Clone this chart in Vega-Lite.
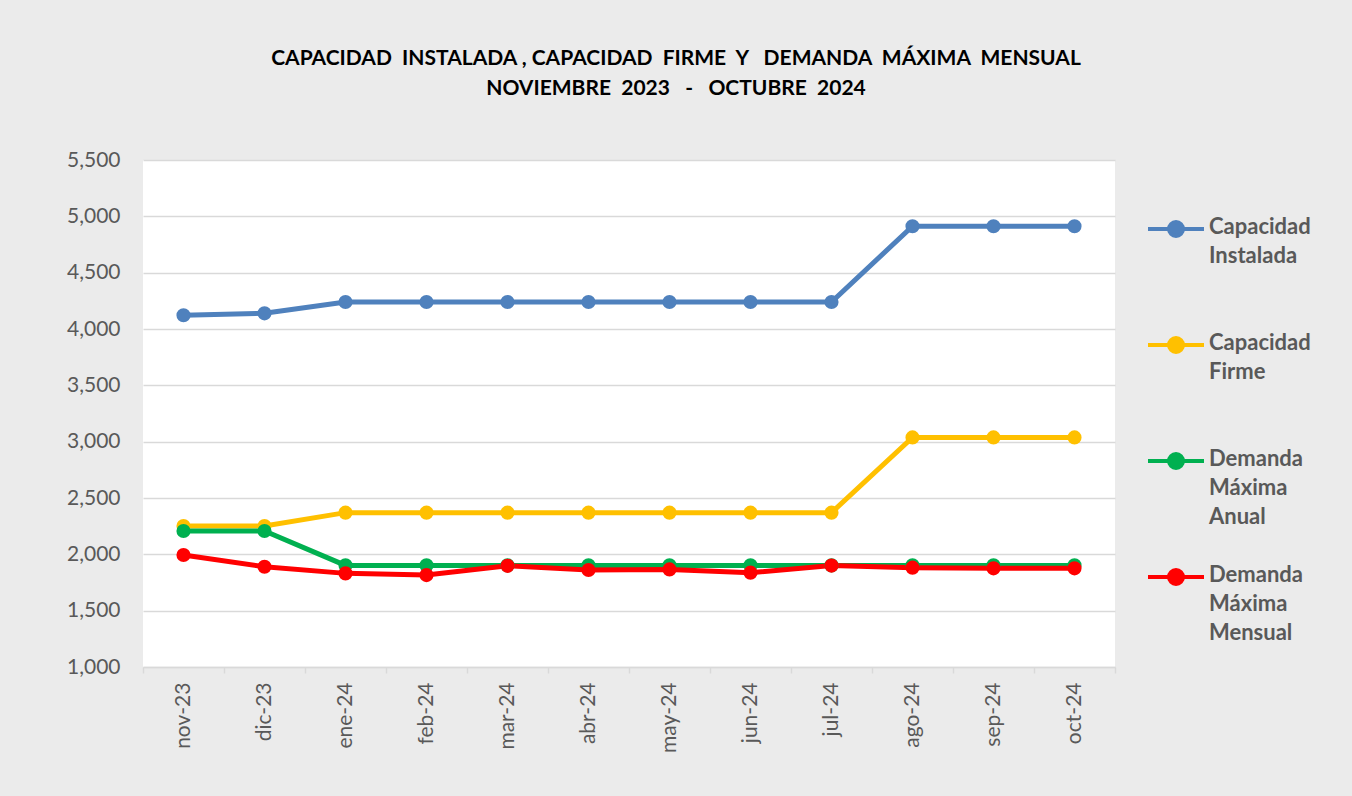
{
  "$schema": "https://vega.github.io/schema/vega-lite/v6.json",
  "autosize": {"type": "none"},
  "padding": {"left": 143, "top": 160, "right": 237, "bottom": 129},
  "width": 972,
  "height": 507,
  "background": "#ebebeb",
  "title": {
    "text": ["CAPACIDAD\u00a0\u00a0INSTALADA\u00a0, CAPACIDAD\u00a0\u00a0FIRME\u00a0\u00a0Y\u00a0\u00a0\u00a0DEMANDA\u00a0\u00a0MÁXIMA\u00a0\u00a0MENSUAL", "NOVIEMBRE\u00a0\u00a02023\u00a0\u00a0\u00a0-\u00a0\u00a0\u00a0OCTUBRE\u00a0\u00a02024"],
    "anchor": "middle",
    "frame": "group",
    "dx": 47,
    "offset": 50,
    "font": "Lato",
    "fontSize": 21,
    "fontWeight": "bold",
    "color": "#000000",
    "lineHeight": 30
  },
  "data": {
    "values": [
      {"mes": "nov-23", "serie": "Capacidad Instalada", "valor": 4122},
      {"mes": "dic-23", "serie": "Capacidad Instalada", "valor": 4139},
      {"mes": "ene-24", "serie": "Capacidad Instalada", "valor": 4240},
      {"mes": "feb-24", "serie": "Capacidad Instalada", "valor": 4240},
      {"mes": "mar-24", "serie": "Capacidad Instalada", "valor": 4240},
      {"mes": "abr-24", "serie": "Capacidad Instalada", "valor": 4240},
      {"mes": "may-24", "serie": "Capacidad Instalada", "valor": 4240},
      {"mes": "jun-24", "serie": "Capacidad Instalada", "valor": 4240},
      {"mes": "jul-24", "serie": "Capacidad Instalada", "valor": 4240},
      {"mes": "ago-24", "serie": "Capacidad Instalada", "valor": 4912},
      {"mes": "sep-24", "serie": "Capacidad Instalada", "valor": 4912},
      {"mes": "oct-24", "serie": "Capacidad Instalada", "valor": 4912},
      {"mes": "nov-23", "serie": "Capacidad Firme", "valor": 2251},
      {"mes": "dic-23", "serie": "Capacidad Firme", "valor": 2251},
      {"mes": "ene-24", "serie": "Capacidad Firme", "valor": 2370},
      {"mes": "feb-24", "serie": "Capacidad Firme", "valor": 2370},
      {"mes": "mar-24", "serie": "Capacidad Firme", "valor": 2370},
      {"mes": "abr-24", "serie": "Capacidad Firme", "valor": 2370},
      {"mes": "may-24", "serie": "Capacidad Firme", "valor": 2370},
      {"mes": "jun-24", "serie": "Capacidad Firme", "valor": 2370},
      {"mes": "jul-24", "serie": "Capacidad Firme", "valor": 2370},
      {"mes": "ago-24", "serie": "Capacidad Firme", "valor": 3038},
      {"mes": "sep-24", "serie": "Capacidad Firme", "valor": 3038},
      {"mes": "oct-24", "serie": "Capacidad Firme", "valor": 3038},
      {"mes": "nov-23", "serie": "Demanda Máxima Anual", "valor": 2207},
      {"mes": "dic-23", "serie": "Demanda Máxima Anual", "valor": 2207},
      {"mes": "ene-24", "serie": "Demanda Máxima Anual", "valor": 1902},
      {"mes": "feb-24", "serie": "Demanda Máxima Anual", "valor": 1902},
      {"mes": "mar-24", "serie": "Demanda Máxima Anual", "valor": 1902},
      {"mes": "abr-24", "serie": "Demanda Máxima Anual", "valor": 1902},
      {"mes": "may-24", "serie": "Demanda Máxima Anual", "valor": 1902},
      {"mes": "jun-24", "serie": "Demanda Máxima Anual", "valor": 1902},
      {"mes": "jul-24", "serie": "Demanda Máxima Anual", "valor": 1902},
      {"mes": "ago-24", "serie": "Demanda Máxima Anual", "valor": 1902},
      {"mes": "sep-24", "serie": "Demanda Máxima Anual", "valor": 1902},
      {"mes": "oct-24", "serie": "Demanda Máxima Anual", "valor": 1902},
      {"mes": "nov-23", "serie": "Demanda Máxima Mensual", "valor": 1994},
      {"mes": "dic-23", "serie": "Demanda Máxima Mensual", "valor": 1890},
      {"mes": "ene-24", "serie": "Demanda Máxima Mensual", "valor": 1831},
      {"mes": "feb-24", "serie": "Demanda Máxima Mensual", "valor": 1816},
      {"mes": "mar-24", "serie": "Demanda Máxima Mensual", "valor": 1898},
      {"mes": "abr-24", "serie": "Demanda Máxima Mensual", "valor": 1861},
      {"mes": "may-24", "serie": "Demanda Máxima Mensual", "valor": 1866},
      {"mes": "jun-24", "serie": "Demanda Máxima Mensual", "valor": 1837},
      {"mes": "jul-24", "serie": "Demanda Máxima Mensual", "valor": 1900},
      {"mes": "ago-24", "serie": "Demanda Máxima Mensual", "valor": 1882},
      {"mes": "sep-24", "serie": "Demanda Máxima Mensual", "valor": 1876},
      {"mes": "oct-24", "serie": "Demanda Máxima Mensual", "valor": 1876}
    ]
  },
  "encoding": {
    "x": {
      "field": "mes",
      "type": "nominal",
      "sort": null,
      "bandPosition": 0.5,
      "scale": {"type": "band", "paddingInner": 0, "paddingOuter": 0},
      "axis": {
        "title": null,
        "labelAngle": -90,
        "labelFont": "Lato",
        "labelFontSize": 21,
        "labelColor": "#595959",
        "labelPadding": 9,
        "tickBand": "extent",
        "tickSize": 6,
        "tickColor": "#d9d9d9",
        "tickWidth": 1.5,
        "domainColor": "#d9d9d9",
        "domainWidth": 1.5,
        "grid": false
      }
    },
    "y": {
      "field": "valor",
      "type": "quantitative",
      "scale": {"domain": [1000, 5500], "nice": false, "zero": false},
      "axis": {
        "title": null,
        "values": [1000, 1500, 2000, 2500, 3000, 3500, 4000, 4500, 5000, 5500],
        "format": ",.0f",
        "labelFont": "Lato",
        "labelFontSize": 21,
        "labelColor": "#595959",
        "labelPadding": 23,
        "ticks": false,
        "domain": false,
        "grid": true,
        "gridColor": "#d9d9d9",
        "gridWidth": 1.5
      }
    },
    "color": {
      "field": "serie",
      "type": "nominal",
      "sort": ["Capacidad Instalada", "Capacidad Firme", "Demanda Máxima Anual", "Demanda Máxima Mensual"],
      "scale": {
        "domain": ["Capacidad Instalada", "Capacidad Firme", "Demanda Máxima Anual", "Demanda Máxima Mensual"],
        "range": ["#4f81bd", "#ffc000", "#00b050", "#ff0000"]
      },
      "legend": {
        "title": null,
        "orient": "none",
        "legendX": 1003,
        "legendY": 39,
        "labelExpr": "split(datum.label + (length(split(datum.label, ' ')) < 3 ? ' ' : ''), ' ')",
        "labelFont": "Lato",
        "labelFontSize": 22,
        "labelFontWeight": "bold",
        "labelColor": "#595959",
        "labelBaseline": "top",
        "labelOffset": 3,
        "symbolType": "M-1,0L1,0M-0.25,0A0.25,0.25,0,1,1,0.25,0A0.25,0.25,0,1,1,-0.25,0Z",
        "symbolSize": 3136,
        "symbolStrokeWidth": 4,
        "rowPadding": 19,
        "encode": {
          "symbols": {"update": {"fill": {"field": "value", "scale": "color"}, "stroke": {"field": "value", "scale": "color"}, "opacity": {"value": 1}}},
          "labels": {"update": {"dy": {"value": -12}}}
        }
      }
    },
    "order": {"field": "serie"}
  },
  "layer": [
    {"mark": {"type": "line", "strokeWidth": 5}},
    {"mark": {"type": "point", "filled": true, "size": 200, "opacity": 1}}
  ],
  "config": {
    "view": {"fill": "#ffffff", "stroke": null},
    "style": {"guide-label": {"lineHeight": 29}}
  }
}
